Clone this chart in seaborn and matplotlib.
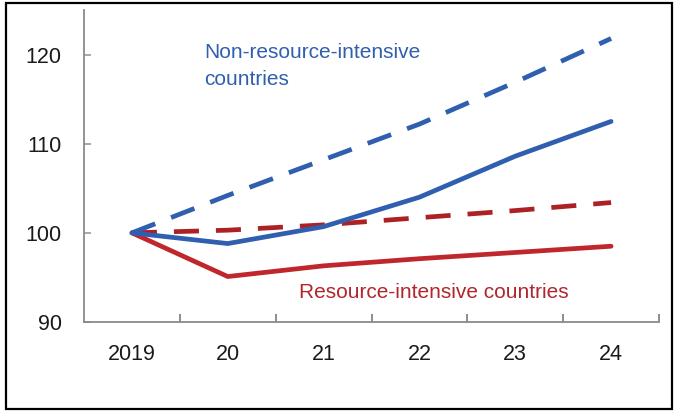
import matplotlib
matplotlib.use("Agg")
import matplotlib.pyplot as plt
import matplotlib.patches as mpatches
import numpy as np
import pandas as pd
import seaborn as sns

# Index, 2019 = 100
years = ["2019", "20", "21", "22", "23", "24"]
non_resource_actual = [100.0, 98.8, 100.7, 104.0, 108.6, 112.5]
non_resource_precovid = [100.0, 104.2, 108.2, 112.2, 116.9, 121.8]
resource_actual = [100.0, 95.1, 96.3, 97.1, 97.8, 98.5]
resource_precovid = [100.0, 100.3, 100.9, 101.7, 102.5, 103.4]

BLUE = "#2f5fae"
RED = "#c0272d"
DARK_RED = "#ad2125"

sns.set_theme(style="white")
plt.rcParams["font.family"] = ["Liberation Sans", "DejaVu Sans"]

pos = np.arange(len(years))
df = pd.DataFrame({
    "pos": pos,
    "nr_actual": non_resource_actual,
    "nr_pre": non_resource_precovid,
    "r_actual": resource_actual,
    "r_pre": resource_precovid,
})

fig = plt.figure(figsize=(6.75, 4.12), dpi=100)
ax = fig.add_axes([84 / 675, 1 - 322 / 412, (659 - 84) / 675, (322 - 10) / 412])

lw = 3.4
dash = (5.3, 3.6)
sns.lineplot(data=df, x="pos", y="r_actual", ax=ax, color=RED, lw=lw)
sns.lineplot(data=df, x="pos", y="r_pre", ax=ax, color=DARK_RED, lw=lw,
             linestyle=(0, dash))
sns.lineplot(data=df, x="pos", y="nr_pre", ax=ax, color=BLUE, lw=lw,
             linestyle=(0, dash))
sns.lineplot(data=df, x="pos", y="nr_actual", ax=ax, color=BLUE, lw=lw)

ax.set_xlim(-0.5, len(years) - 0.5)
ax.set_ylim(90, 125)
ax.set_xlabel("")
ax.set_ylabel("")

ax.set_xticks(pos)
ax.set_xticklabels(years)
ax.set_xticks(np.arange(0.5, len(years), 1.0), minor=True)
ax.tick_params(axis="x", which="major", length=0, pad=16, labelsize=15.5, labelcolor="#1a1a1a")
ax.tick_params(axis="x", which="minor", direction="in", length=6, width=1.2,
               color="#7a7a7a", bottom=True)

ax.set_yticks([90, 100, 110, 120])
ax.tick_params(axis="y", which="major", direction="in", length=5, width=1.2,
               color="#9a9a9a", pad=16, labelsize=15.5, labelcolor="#1a1a1a", left=True)

for side in ("top", "right"):
    ax.spines[side].set_visible(False)
for side in ("left", "bottom"):
    ax.spines[side].set_color("#8a8a8a")
    ax.spines[side].set_linewidth(1.3)

ax.text(0.758, 119.66, "Non-resource-intensive", color=BLUE, fontsize=15, va="baseline")
ax.text(0.758, 116.54, "countries", color=BLUE, fontsize=15, va="baseline")
ax.text(1.745, 92.74, "Resource-intensive countries", color="#b0262c", fontsize=15,
        va="baseline")

# outer frame
fig.patches.append(mpatches.Rectangle((6 / 675, 1 - 409 / 412), 666 / 675, 406 / 412,
                                      transform=fig.transFigure, fill=False,
                                      edgecolor="black", lw=1.6))

fig.savefig("out.png", dpi=100)
